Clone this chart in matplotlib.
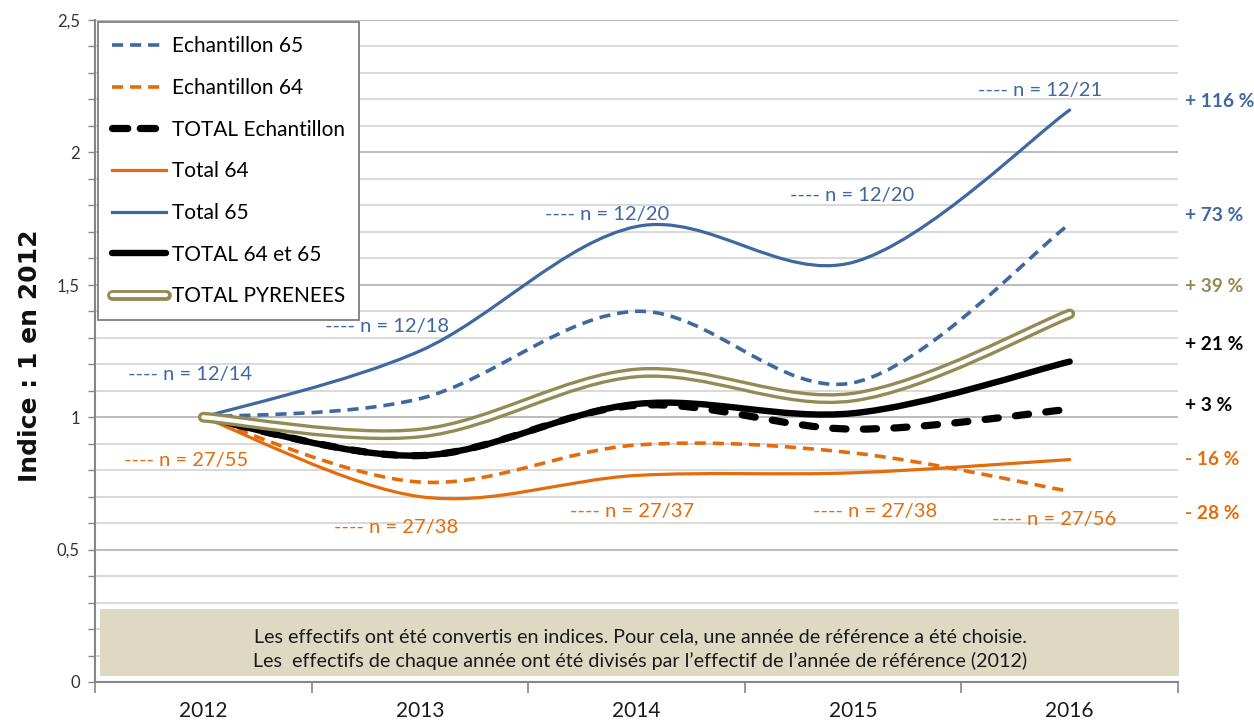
import matplotlib
matplotlib.use("Agg")
import matplotlib.pyplot as plt
import numpy as np
from matplotlib.path import Path
from matplotlib.patches import PathPatch, Rectangle
from matplotlib.lines import Line2D
from matplotlib.ticker import MultipleLocator, FixedLocator, FixedFormatter
import matplotlib.transforms as mtransforms

plt.rcParams['font.family'] = ['Lato', 'DejaVu Sans']
plt.rcParams['lines.scale_dashes'] = False

# données (indice : 1 en 2012)
years = ['2012', '2013', '2014', '2015', '2016']
ech_65 = [1.00, 1.07, 1.40, 1.13, 1.73]
ech_64 = [1.00, 0.755, 0.895, 0.865, 0.72]
total_ech = [1.00, 0.855, 1.045, 0.955, 1.03]
total_64 = [1.00, 0.70, 0.78, 0.79, 0.84]
total_65 = [1.00, 1.25, 1.72, 1.585, 2.16]
total_64_65 = [1.00, 0.855, 1.05, 1.015, 1.21]
total_pyr = [1.00, 0.94, 1.167, 1.076, 1.39]

ytick_vals = [0, 0.5, 1, 1.5, 2, 2.5]
ytick_labels = ['0', '0,5', '1', '1,5', '2', '2,5']

n_labels_65 = ['---- n = 12/14', '---- n = 12/18', '---- n = 12/20', '---- n = 12/20', '---- n = 12/21']
n_labels_64 = ['---- n = 27/55', '---- n = 27/38', '---- n = 27/37', '---- n = 27/38', '---- n = 27/56']
pct_labels = ['+ 116 %', '+ 73 %', '+ 39 %', '+ 21 %', '+ 3 %', '- 16 %', '- 28 %']
note_lines = ["Les effectifs ont été convertis en indices. Pour cela, une année de référence a été choisie.",
              "Les  effectifs de chaque année ont été divisés par l\u2019effectif de l\u2019année de référence (2012)"]

BLUE = '#3f68a0'
ORANGE = '#e46c0a'
OLIVE = '#948a54'
BLACK = '#000000'


def smooth_path(ys):
    # courbe lissée type Excel (Catmull-Rom -> Bezier)
    pts = np.column_stack([np.arange(len(ys)), ys]).astype(float)
    n = len(pts)
    verts = [pts[0]]
    codes = [Path.MOVETO]
    for i in range(n - 1):
        p0 = pts[max(i - 1, 0)]
        p1 = pts[i]
        p2 = pts[i + 1]
        p3 = pts[min(i + 2, n - 1)]
        verts += [p1 + (p2 - p0) / 6, p2 - (p3 - p1) / 6, p2]
        codes += [Path.CURVE4] * 3
    return Path(verts, codes)


def draw(ax, ys, color, lw, ls='-', cap='round', z=3):
    patch = PathPatch(smooth_path(ys), fill=False, edgecolor=color, lw=lw, ls=ls,
                      capstyle=cap, joinstyle='round', zorder=z)
    ax.add_patch(patch)


fig = plt.figure(figsize=(12.54, 7.22), dpi=100)
ax = fig.add_axes([95 / 1254, 1 - 682 / 722, (1178 - 95) / 1254, (682 - 20) / 722])

ax.set_xlim(-0.5, 4.5)
ax.set_ylim(0, 2.5)

# grille
ax.yaxis.set_major_locator(FixedLocator(ytick_vals))
ax.yaxis.set_major_formatter(FixedFormatter(ytick_labels))
ax.yaxis.set_minor_locator(MultipleLocator(0.1))
ax.grid(axis='y', which='minor', color='#d0d0d0', lw=1.1, zorder=0)
ax.grid(axis='y', which='major', color='#a8a8a8', lw=1.1, zorder=0)
ax.set_axisbelow(True)

ax.xaxis.set_major_locator(FixedLocator(np.arange(-0.5, 5, 1)))
ax.xaxis.set_major_formatter(FixedFormatter([''] * 6))
ax.xaxis.set_minor_locator(FixedLocator(range(len(years))))
ax.xaxis.set_minor_formatter(FixedFormatter(years))
ax.tick_params(axis='x', which='major', length=8, width=1.2, color='#868686')
ax.tick_params(axis='x', which='minor', length=0, pad=14, labelsize=15, labelcolor='#1a1a1a')
ax.tick_params(axis='y', which='both', length=5, width=1, color='#868686', labelsize=12, labelcolor='#333333', pad=6)

for s in ['top', 'right']:
    ax.spines[s].set_visible(False)
for s in ['left', 'bottom']:
    ax.spines[s].set_color('#868686')
    ax.spines[s].set_linewidth(1.5)

# courbes
draw(ax, ech_65, BLUE, 2.6, ls=(0, (8, 5)), cap='butt')
draw(ax, ech_64, ORANGE, 2.6, ls=(0, (8, 5)), cap='butt')
draw(ax, total_ech, BLACK, 5.2, ls=(0, (9.5, 12.5)), cap='round')
draw(ax, total_64, ORANGE, 2.3)
draw(ax, total_65, BLUE, 2.3)
draw(ax, total_64_65, BLACK, 4.6)
draw(ax, total_pyr, OLIVE, 7.8, z=4)
draw(ax, total_pyr, 'white', 3.0, z=4)

# étiquettes n =
pos_65 = [(-0.06, 1.163), (0.848, 1.344), (1.866, 1.764), (2.997, 1.839), (3.861, 2.232)]
pos_64 = [(-0.078, 0.835), (0.89, 0.582), (1.981, 0.642), (3.101, 0.642), (3.928, 0.612)]
for lab, (x, y) in zip(n_labels_65, pos_65):
    ax.text(x, y, lab, color=BLUE, fontsize=14.5, ha='center', va='center', zorder=5)
for lab, (x, y) in zip(n_labels_64, pos_64):
    ax.text(x, y, lab, color=ORANGE, fontsize=14.5, ha='center', va='center', zorder=5)

# pourcentages à droite
pct_colors = [BLUE, BLUE, OLIVE, BLACK, BLACK, ORANGE, ORANGE]
pct_y = [2.194, 1.76, 1.495, 1.273, 1.046, 0.842, 0.638]
trans = mtransforms.blended_transform_factory(ax.transAxes, ax.transData)
for lab, c, y in zip(pct_labels, pct_colors, pct_y):
    ax.text(1.0065, y, lab, color=c, fontsize=13.8, fontweight='bold', ha='left', va='center',
            transform=trans, clip_on=False)

# encadré de note
box = Rectangle((-0.477, 0.023), 4.982, 0.253, facecolor='#ddd9c3', edgecolor='none',
                zorder=6, clip_on=False)
ax.add_patch(box)
for k, line in enumerate(note_lines):
    t = ax.text(2.016, [0.172, 0.079][k], line, fontsize=14.2, color='#1a1a1a',
                ha='center', va='center', zorder=7)
    t.set_clip_path(box)

# légende
h_e65 = Line2D([], [], color=BLUE, lw=2.6, ls=(0, (8, 5)))
h_e64 = Line2D([], [], color=ORANGE, lw=2.6, ls=(0, (8, 5)))
h_tech = Line2D([], [], color=BLACK, lw=5.2, ls=(0, (11, 9)), dash_capstyle='round')
h_t64 = Line2D([], [], color=ORANGE, lw=2.3)
h_t65 = Line2D([], [], color=BLUE, lw=2.3)
h_t6465 = Line2D([], [], color=BLACK, lw=4.6, solid_capstyle='round')
h_pyr_o = Line2D([], [], color=OLIVE, lw=7.8, solid_capstyle='round')
h_pyr_i = Line2D([], [], color='white', lw=3.0, solid_capstyle='round')
leg = ax.legend([h_e65, h_e64, h_tech, h_t64, h_t65, h_t6465, (h_pyr_o, h_pyr_i)],
                ['Echantillon 65', 'Echantillon 64', 'TOTAL Echantillon', 'Total 64', 'Total 65',
                 'TOTAL 64 et 65', 'TOTAL PYRENEES'],
                loc='upper left', bbox_to_anchor=(98 / 1254, 1 - 22 / 722), bbox_transform=fig.transFigure,
                borderaxespad=0, fontsize=15, handlelength=2.6, handletextpad=0.25,
                labelspacing=1.04, borderpad=0.68, fancybox=False, framealpha=1,
                edgecolor='#7f7f7f', facecolor='white')
leg.get_frame().set_linewidth(1.3)
leg.set_zorder(8)

fig.text(30 / 1254, 1 - 356 / 722, 'Indice : 1 en 2012', rotation=90, ha='center', va='center',
         fontsize=18, fontweight='bold', family='DejaVu Sans', color='#111111')

plt.savefig('out.png', dpi=100)
